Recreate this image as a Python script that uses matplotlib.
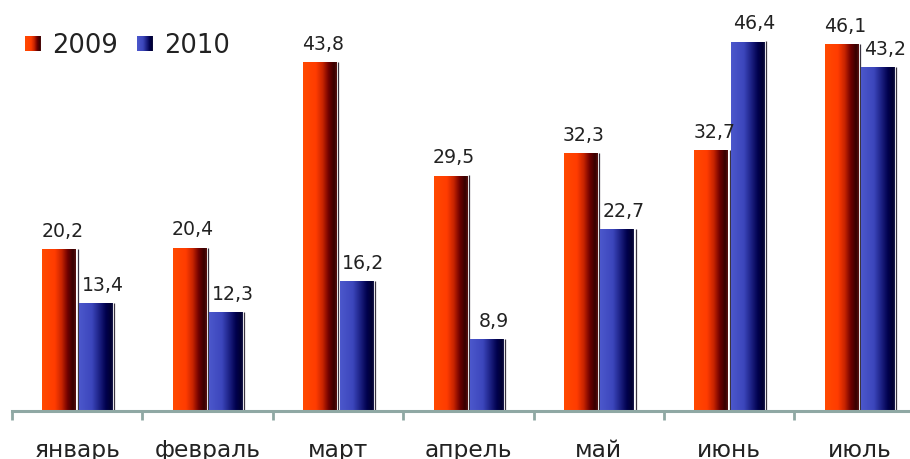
import numpy as np
import matplotlib
matplotlib.use("Agg")
import matplotlib.pyplot as plt
from matplotlib.colors import LinearSegmentedColormap

# monthly values, two years
months = ["январь", "февраль", "март", "апрель", "май", "июнь", "июль"]
years = ["2009", "2010"]
vals_2009 = [20.2, 20.4, 43.8, 29.5, 32.3, 32.7, 46.1]
vals_2010 = [13.4, 12.3, 16.2, 8.9, 22.7, 46.4, 43.2]

# horizontal gradients like the old excel 3d bars
red_cm = LinearSegmentedColormap.from_list(
    "red3d", [(0.0, "#ff4a00"), (0.38, "#ff3c00"), (0.58, "#c82400"),
              (0.76, "#6e0000"), (0.92, "#360000"), (1.0, "#5a1212")])
blue_cm = LinearSegmentedColormap.from_list(
    "blue3d", [(0.0, "#4c58cc"), (0.38, "#3c46bc"), (0.6, "#1c2184"),
               (0.8, "#00004c"), (0.95, "#000030"), (1.0, "#1e1e50")])

axis_col = "#8fa8a4"
text_col = "#222222"

W, H, DPI = 910, 459, 100
fig = plt.figure(figsize=(W / DPI, H / DPI), dpi=DPI)

# axes: zero line at y=410 px, 130.4 px per month, ~7.93 px per unit
px_cat = 130.4
px_unit = 7.93
left_px, zero_px = 12, 410.5
ax_h_px = 400
ax = fig.add_axes([left_px / W, (H - zero_px) / H, 1 - left_px / W, ax_h_px / H])
ax.set_xlim(-0.5, -0.5 + (W - left_px) / px_cat)
ax.set_ylim(0, ax_h_px / px_unit)

x = np.arange(len(months))
bw = 0.255
gap = 0.025
off = bw / 2 + gap / 2

bars_a = ax.bar(x - off, vals_2009, bw, color="none", zorder=2)
bars_b = ax.bar(x + off, vals_2010, bw, color="none", zorder=2)

grad = np.linspace(0, 1, 256).reshape(1, -1)
px = 1.0 / px_cat  # one pixel in x data units
for bars, cm in ((bars_a, red_cm), (bars_b, blue_cm)):
    for p in bars:
        x0, w, h = p.get_x(), p.get_width(), p.get_height()
        ax.imshow(grad, cmap=cm, extent=[x0, x0 + w, 0, h], aspect="auto",
                  interpolation="bilinear", zorder=2)
        # thin shadow line at the right side
        ax.plot([x0 + w + 2 * px] * 2, [0, h + 0.15], color="#3a3440",
                lw=0.9, solid_capstyle="butt", zorder=2)

# value labels
for bars, vals, dx in ((bars_a, vals_2009, 2.5), (bars_b, vals_2010, 5)):
    for p, v in zip(bars, vals):
        ax.annotate(f"{v:.1f}".replace(".", ","),
                    (p.get_x() + p.get_width() / 2, p.get_height()),
                    xytext=(dx, 9.6), textcoords="offset points",
                    ha="center", va="baseline", fontsize=13.6,
                    color=text_col, annotation_clip=False)

# month labels under the axis
for i, m in enumerate(months):
    ax.annotate(m, (i, 0), xytext=(0, -33.2), textcoords="offset points",
                ha="center", va="baseline", fontsize=16.8, color=text_col,
                annotation_clip=False)

ax.set_aspect("auto")
ax.set_xlim(-0.5, -0.5 + (W - left_px) / px_cat)
ax.set_ylim(0, ax_h_px / px_unit)

# separators between months
ax.set_xticks(np.arange(len(months)) - 0.5)
ax.set_xticklabels([])
ax.set_yticks([])
ax.tick_params(axis="x", direction="out", length=6.5, width=2.0,
               color=axis_col)
for s in ("top", "left", "right"):
    ax.spines[s].set_visible(False)
ax.spines["bottom"].set_color(axis_col)
ax.spines["bottom"].set_linewidth(2.2)
ax.spines["bottom"].set_zorder(3)
ax.patch.set_alpha(0)

# legend with gradient squares
leg_x = [25, 137]
for lx, cm, yr in zip(leg_x, (red_cm, blue_cm), years):
    lax = fig.add_axes([lx / W, (H - 51) / H, 16 / W, 15 / H])
    lax.imshow(grad, cmap=cm, aspect="auto", interpolation="bilinear")
    lax.axis("off")
    fig.text((lx + 27) / W, (H - 53) / H, yr, fontsize=18.5,
             color=text_col, ha="left", va="baseline")

fig.savefig("out.png", dpi=DPI)
